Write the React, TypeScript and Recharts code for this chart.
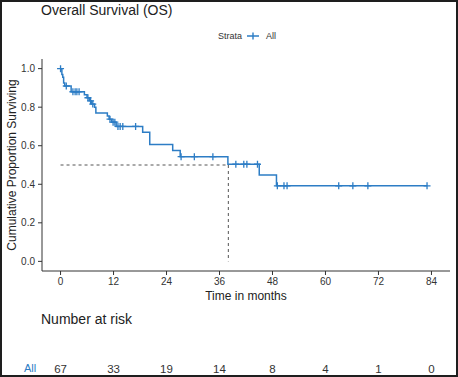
import {
  ComposedChart,
  Line,
  Scatter,
  XAxis,
  YAxis,
  ReferenceLine,
} from "recharts";

// Kaplan-Meier step points
const stepTimes = [0, 0.3, 0.5, 0.7, 0.95, 2.4, 5.4, 6.0, 6.5, 7.0, 7.7, 8.0, 10.6, 11.0, 11.6, 12.6, 18.6, 20.2, 25.4, 27.1, 37.9, 45.0, 48.9, 83.0];
const stepSurv = [1.0, 0.97, 0.955, 0.925, 0.91, 0.88, 0.865, 0.849, 0.833, 0.816, 0.8, 0.77, 0.754, 0.738, 0.722, 0.7, 0.67, 0.607, 0.575, 0.543, 0.504, 0.448, 0.392, 0.392];

// censored observations (+ marks)
const censorTimes = [0, 1.3, 2.8, 3.3, 3.7, 4.2, 6.2, 6.8, 7.3, 11.2, 11.9, 12.3, 13.0, 13.5, 14.1, 17.0, 27.3, 30.3, 34.5, 39.7, 41.5, 42.2, 44.6, 49.1, 50.6, 51.3, 63.0, 66.2, 69.6, 83.0];
const censorSurv = [1.0, 0.91, 0.88, 0.88, 0.88, 0.88, 0.849, 0.833, 0.816, 0.738, 0.722, 0.722, 0.7, 0.7, 0.7, 0.7, 0.543, 0.543, 0.543, 0.504, 0.504, 0.504, 0.504, 0.392, 0.392, 0.392, 0.392, 0.392, 0.392, 0.392];

const xTicks = [0, 12, 24, 36, 48, 60, 72, 84];
const yTicks = [0, 0.2, 0.4, 0.6, 0.8, 1.0];
const atRisk = [67, 33, 19, 14, 8, 4, 1, 0];
const medianTime = 38;

const curve = stepTimes.map((t, i) => ({ time: t, surv: stepSurv[i] }));
const censors = censorTimes.map((t, i) => ({ time: t, surv: censorSurv[i] }));
const riskRows = xTicks.map((t, i) => ({ time: t, y: 0.5, n: atRisk[i] }));

const BLUE = "#2D7DC5";
const INK = "#333333";
const FONT = '"Liberation Sans", Arial, sans-serif';
const X_DOMAIN = [-4.2, 88.2];

const Cross = (props: any) => {
  const { cx, cy } = props;
  return (
    <path
      d={`M${cx - 3.5},${cy}h7M${cx},${cy - 3.5}v7`}
      stroke={BLUE}
      strokeWidth={1.3}
      fill="none"
    />
  );
};

const RiskText = (props: any) => {
  const { cx, cy, payload } = props;
  return (
    <text x={cx} y={cy + 4.5} textAnchor="middle" fontSize={11.5} fill={INK} fontFamily={FONT}>
      {payload.n}
    </text>
  );
};

export default function App() {
  return (
    <div style={{ position: "absolute", left: 0, top: 0, width: 458, height: 377, background: "#fff", fontFamily: FONT, color: INK }}>
      <div style={{ position: "absolute", left: 41, top: 2, fontSize: 14, lineHeight: "16px", color: "#222", whiteSpace: "nowrap" }}>
        Overall Survival (OS)
      </div>

      <div style={{ position: "absolute", left: 218, top: 30.5, fontSize: 9, lineHeight: "10px", display: "flex", alignItems: "center", whiteSpace: "nowrap" }}>
        <span>Strata</span>
        <svg width={18} height={10} style={{ margin: "0 4px 0 2px" }}>
          <path d="M3,5h12M9,1.5v7" stroke={BLUE} strokeWidth={1.4} />
        </svg>
        <span>All</span>
      </div>

      <div style={{ position: "absolute", left: 0, top: 0 }}>
        <ComposedChart width={458} height={303} margin={{ top: 59, right: 8, bottom: 0, left: 6 }}>
          <XAxis
            type="number"
            dataKey="time"
            domain={X_DOMAIN}
            ticks={xTicks}
            allowDataOverflow
            height={32}
            stroke={INK}
            tickSize={4}
            tickMargin={3}
            tick={{ fontSize: 10, fill: INK, fontFamily: FONT }}
            label={{ value: "Time in months", position: "insideBottom", offset: 3, fontSize: 12, fill: "#222", fontFamily: FONT }}
          />
          <YAxis
            type="number"
            domain={[-0.05, 1.05]}
            ticks={yTicks}
            allowDataOverflow
            width={36}
            stroke={INK}
            tickSize={4}
            tickMargin={3}
            tickFormatter={(v: number) => v.toFixed(1)}
            tick={{ fontSize: 10, fill: INK, fontFamily: FONT }}
            label={{
              value: "Cumulative Proportion Surviving",
              angle: -90,
              position: "insideLeft",
              offset: 6,
              fontSize: 12,
              fill: "#222",
              fontFamily: FONT,
              style: { textAnchor: "middle" },
            }}
          />
          <ReferenceLine
            segment={[{ x: 0, y: 0.5 }, { x: medianTime, y: 0.5 }]}
            stroke="#555"
            strokeDasharray="3 3"
          />
          <ReferenceLine
            segment={[{ x: medianTime, y: 0.5 }, { x: medianTime, y: 0 }]}
            stroke="#555"
            strokeDasharray="3 3"
          />
          <Line
            data={curve}
            dataKey="surv"
            type="stepAfter"
            stroke={BLUE}
            strokeWidth={1.5}
            dot={false}
            activeDot={false}
            isAnimationActive={false}
          />
          <Scatter data={censors} dataKey="surv" shape={Cross} isAnimationActive={false} />
        </ComposedChart>
      </div>

      <div style={{ position: "absolute", left: 41, top: 310.5, fontSize: 14, lineHeight: "16px", color: "#222", whiteSpace: "nowrap" }}>
        Number at risk
      </div>

      <div style={{ position: "absolute", left: 24, top: 362, fontSize: 11, lineHeight: "12px", color: BLUE }}>
        All
      </div>

      <div style={{ position: "absolute", left: 0, top: 355 }}>
        <ComposedChart width={458} height={26} margin={{ top: 0, right: 8, bottom: 0, left: 42 }}>
          <XAxis type="number" dataKey="time" domain={X_DOMAIN} hide allowDataOverflow />
          <YAxis type="number" domain={[0, 1]} hide />
          <Scatter data={riskRows} dataKey="y" shape={RiskText} isAnimationActive={false} />
        </ComposedChart>
      </div>

      <div style={{ position: "absolute", left: 0, top: 0, width: 458, height: 377, boxSizing: "border-box", border: "2px solid #1e1e1e", pointerEvents: "none" }} />
    </div>
  );
}
